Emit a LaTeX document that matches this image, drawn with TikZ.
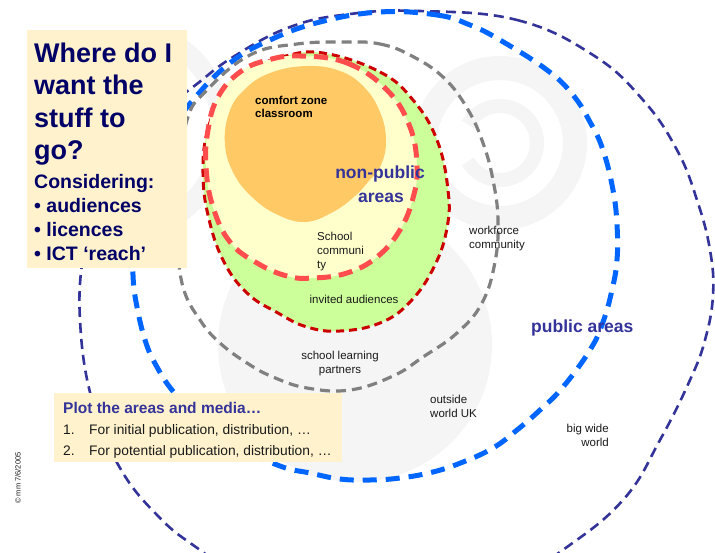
\documentclass[tikz,border=0pt]{standalone}
\usepackage{fontspec}
\setmainfont{Liberation Sans}
\definecolor{navy}{HTML}{333399}
\definecolor{ttl}{HTML}{000066}
\definecolor{bblue}{HTML}{0066FF}
\definecolor{gry}{HTML}{808080}
\definecolor{dred}{HTML}{CC0000}
\definecolor{lred}{HTML}{FF4D4D}
\definecolor{grn}{HTML}{CCFF99}
\definecolor{ylw}{HTML}{FFFFCC}
\definecolor{org}{HTML}{FFC966}
\definecolor{cream}{HTML}{FFF2CC}
\definecolor{wm}{HTML}{F5F5F5}
\definecolor{txt}{HTML}{1A1A1A}
\tikzset{
  navyline/.style={draw=navy, line width=2.6pt, dash pattern=on 10pt off 6pt},
  blueline/.style={draw=bblue, line width=5pt, dash pattern=on 14pt off 9pt},
  greyline/.style={draw=gry, line width=3.2pt, dash pattern=on 10pt off 6pt},
  dredline/.style={draw=dred, line width=3pt, dash pattern=on 8pt off 5pt},
  lredline/.style={draw=lred, line width=5pt, dash pattern=on 14pt off 8pt},
  lbl/.style={font=\fontsize{11.5}{14}\selectfont, text=txt, inner sep=0pt},
  lblb/.style={font=\bfseries\fontsize{11.5}{14}\selectfont, text=black, inner sep=0pt},
  area/.style={font=\bfseries\fontsize{17.5}{21}\selectfont, text=navy, inner sep=0pt},
  title/.style={font=\bfseries\fontsize{27}{32}\selectfont, text=ttl, inner sep=0pt, anchor=base west},
  subt/.style={font=\bfseries\fontsize{19.5}{24}\selectfont, text=ttl, inner sep=0pt, anchor=base west},
  plot/.style={font=\bfseries\fontsize{15.5}{18}\selectfont, text=navy, inner sep=0pt, anchor=base west},
  item/.style={font=\fontsize{13.8}{16}\selectfont, text=txt, inner sep=0pt, anchor=base west},
  box/.style={fill=cream, draw=none}
}
\begin{document}
\begin{tikzpicture}[x=1pt,y=-1pt]
\useasboundingbox (0,0) rectangle (715,552);
\clip (0,0) rectangle (715,552);
\fill[white] (0,0) rectangle (715,552);
% faint watermark
\fill[wm] (355,345) circle[radius=137];
\draw[wm, line width=24pt] (500,143) circle[radius=75];
\draw[wm, line width=14pt] (500,143) ++(-150:37) arc[start angle=-150, end angle=150, radius=37];
\draw[wm, line width=20pt] (120,130) ++(-55:102) arc[start angle=-55, end angle=55, radius=102];
% big wide world
\path[navyline] plot[smooth cycle, tension=0.7] coordinates {
 (420,11) (517,20) (593,55) (643,100) (677,150) (697,200) (710,250) (713,295)
 (705,340) (690,380) (660,440) (623,500) (560,552) (470,610) (370,625) (270,598)
 (200,550) (160,518) (120,468) (92,400) (80,320) (84,250) (100,185) (140,128)
 (193,87) (233,57) (290,27) (350,14)};
% outside world UK
\path[blueline] plot[smooth cycle, tension=0.7] coordinates {
 (380,12) (437,15) (470,25) (500,40) (547,70) (573,95) (590,122) (603,150)
 (613,190) (617,225) (617,260) (612,290) (603,322) (590,350) (563,387) (540,410)
 (517,430) (493,448) (463,462) (433,472) (400,478) (370,480) (340,479) (310,473)
 (280,466) (235,445) (195,415) (172,390) (157,367) (146,343) (137,307) (133,275)
 (134,235) (145,185) (165,140) (193,100) (230,63) (270,40) (320,22)};
% school learning partners
\path[greyline] plot[smooth cycle, tension=0.7] coordinates {
 (347,42) (380,44) (410,55) (443,77) (467,108) (483,143) (493,180) (498,220)
 (495,262) (482,303) (457,333) (423,357) (393,376) (350,390) (307,388) (273,377)
 (247,363) (220,343) (200,320) (183,287) (178,240) (180,180) (187,120) (207,90)
 (250,55) (297,44)};
% invited audiences
\path[fill=grn, dredline] plot[smooth cycle, tension=0.7] coordinates {
 (323,53) (380,72) (413,100) (437,140) (448,190) (447,228) (434,267) (410,302)
 (380,323) (340,331) (307,327) (278,313) (247,293) (223,260) (208,215) (203,173)
 (207,133) (222,97) (247,72) (282,57)};
% school community
\path[fill=ylw, lredline] plot[smooth cycle, tension=0.7] coordinates {
 (300,56) (347,63) (387,90) (410,127) (417,167) (413,198) (400,230) (377,257)
 (347,273) (313,278) (287,276) (257,263) (230,242) (213,207) (206,167) (208,130)
 (218,97) (240,72) (268,60)};
% comfort zone
\fill[org] plot[smooth cycle, tension=0.7] coordinates {
 (307,66) (340,71) (364,87) (380,112) (386,140) (381,165) (368,182) (355,196)
 (333,212) (305,222) (276,214) (252,197) (234,174) (225,145) (229,113) (244,90)
 (270,73)};
% labels
\node[lblb, anchor=base west] (cz1) at (255,104) {comfort zone};
\node[lblb, anchor=base west] (cz2) at (255,117) {classroom};
\node[area, anchor=base] (np1) at (380,178) {non-public};
\node[area, anchor=base] (np2) at (381,202) {areas};
\node[lbl, anchor=base west] (sc1) at (317,240) {School};
\node[lbl, anchor=base west] (sc2) at (317,254) {communi};
\node[lbl, anchor=base west] (sc3) at (317,268) {ty};
\node[lbl, anchor=base] (inv) at (354,303) {invited audiences};
\node[lbl, anchor=base] (slp1) at (340,359) {school learning};
\node[lbl, anchor=base] (slp2) at (340,373) {partners};
\node[lbl, anchor=base west] (wf1) at (469,234) {workforce};
\node[lbl, anchor=base west] (wf2) at (469,248) {community};
\node[lbl, anchor=base west] (ow1) at (430,403) {outside};
\node[lbl, anchor=base west] (ow2) at (430,417) {world UK};
\node[lbl, anchor=base east] (bw1) at (609,432) {big wide};
\node[lbl, anchor=base east] (bw2) at (609,446) {world};
\node[area, anchor=base west] (pub) at (531,332) {public areas};
% title box
\fill[box] (27,30) rectangle (187,268);
\node[title] (t1) at (34,62) {Where do I};
\node[title] (t2) at (34,94.5) {want the};
\node[title] (t3) at (34,127) {stuff to};
\node[title] (t4) at (34,159.5) {go?};
\node[subt] (c0) at (34,188) {Considering:};
\node[subt] (c1) at (34,212) {• audiences};
\node[subt] (c2) at (34,236) {• licences};
\node[subt] (c3) at (34,260) {• ICT ‘reach’};
% plot box
\fill[box] (54,393) rectangle (342,462);
\node[plot] (p0) at (63,413) {Plot the areas and media…};
\node[item] (n1) at (63,434) {1.};
\node[item] (i1) at (89,434) {For initial publication, distribution, …};
\node[item] (n2) at (63,455) {2.};
\node[item] (i2) at (89,455) {For potential publication, distribution, …};
% tiny rotated note
\node[font=\fontsize{7.5}{8}\selectfont, text=txt, inner sep=0pt, rotate=90] (cr) at (18,478) {© mm 7/6/2005};
\end{tikzpicture}
\end{document}
